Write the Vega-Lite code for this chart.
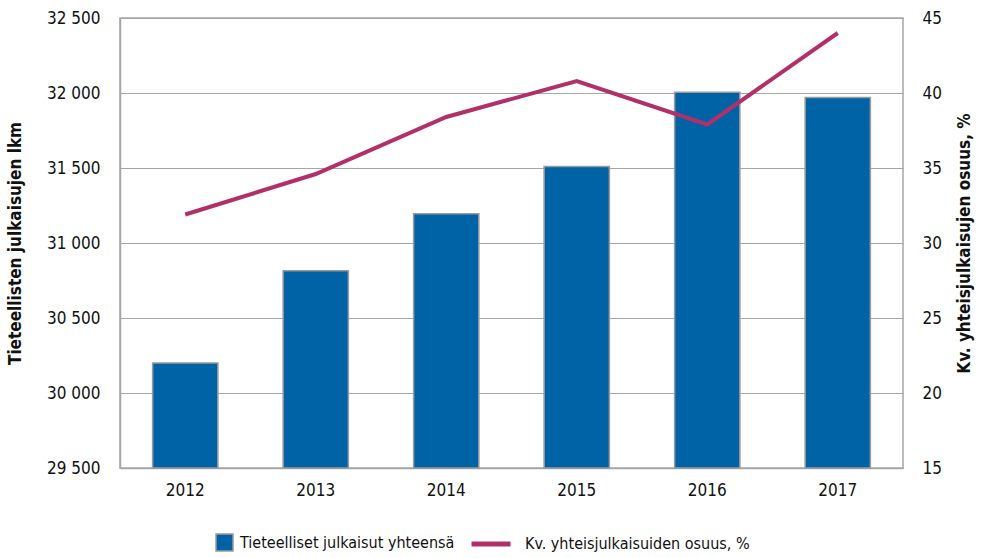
{
  "$schema": "https://vega.github.io/schema/vega-lite/v6.json",
  "width": 783,
  "height": 450,
  "autosize": {"type": "none"},
  "padding": {"left": 120, "top": 18, "right": 78, "bottom": 90},
  "config": {
    "font": "DejaVu Sans Condensed, Liberation Sans Narrow, sans-serif",
    "view": {"stroke": "#a6a6a6", "strokeWidth": 1.5},
    "axis": {"labelFont": "DejaVu Sans Condensed", "titleFont": "DejaVu Sans Condensed", "labelFontSize": 17, "labelColor": "#111", "titleFontSize": 17, "titleColor": "#111", "titleFontWeight": "bold", "ticks": false, "domainColor": "#a6a6a6", "domainWidth": 1.5, "gridColor": "#a6a6a6", "gridWidth": 1.2},
    "legend": {"labelFont": "DejaVu Sans Condensed", "labelFontSize": 16, "labelColor": "#111", "labelLimit": 500}
  },
  "data": {
    "values": [
      {"year": "2012", "total": 30200, "share": 31.9},
      {"year": "2013", "total": 30815, "share": 34.6},
      {"year": "2014", "total": 31195, "share": 38.4},
      {"year": "2015", "total": 31510, "share": 40.8},
      {"year": "2016", "total": 32005, "share": 37.9},
      {"year": "2017", "total": 31970, "share": 44.0}
    ]
  },
  "encoding": {
    "x": {"field": "year", "type": "nominal", "scale": {"paddingInner": 0.5, "paddingOuter": 0.25}, "axis": {"title": null, "labelAngle": 0, "labelPadding": 14, "domain": true}}
  },
  "layer": [
    {
      "mark": {"type": "bar", "stroke": "#9a9a9a", "strokeWidth": 1.5},
      "encoding": {
        "y": {"field": "total", "type": "quantitative", "scale": {"domain": [29500, 32500], "zero": false, "nice": false}, "axis": {"title": "Tieteellisten julkaisujen lkm", "values": [29500, 30000, 30500, 31000, 31500, 32000, 32500], "labelExpr": "replace(format(datum.value, ',d'), ',', ' ')", "labelPadding": 20, "titlePadding": 22, "grid": true}},
        "y2": {"datum": 29500},
        "fill": {"datum": "Tieteelliset julkaisut yhteensä", "type": "nominal", "scale": {"range": ["#0063a6"]},
          "legend": {"title": null, "orient": "none", "legendX": 95, "legendY": 515, "symbolType": "square", "symbolSize": 289, "symbolStrokeColor": "#9a9a9a", "symbolStrokeWidth": 1.5, "symbolFillColor": "#0063a6", "labelOffset": 6}}
      }
    },
    {
      "mark": {"type": "line", "strokeWidth": 4},
      "encoding": {
        "y": {"field": "share", "type": "quantitative", "scale": {"domain": [15, 45], "zero": false, "nice": false}, "axis": {"orient": "right", "title": "Kv. yhteisjulkaisujen osuus, %", "values": [15, 20, 25, 30, 35, 40, 45], "labelPadding": 19, "titlePadding": 32, "titleAngle": 270, "grid": false, "domain": false}},
        "stroke": {"datum": "Kv. yhteisjulkaisuiden osuus, %", "type": "nominal", "scale": {"range": ["#b2306a"]},
          "legend": {"title": null, "orient": "none", "legendX": 349, "legendY": 504, "symbolType": "stroke", "symbolSize": 1521, "symbolStrokeWidth": 5, "labelOffset": 12}}
      }
    }
  ],
  "resolve": {"scale": {"y": "independent"}}
}
